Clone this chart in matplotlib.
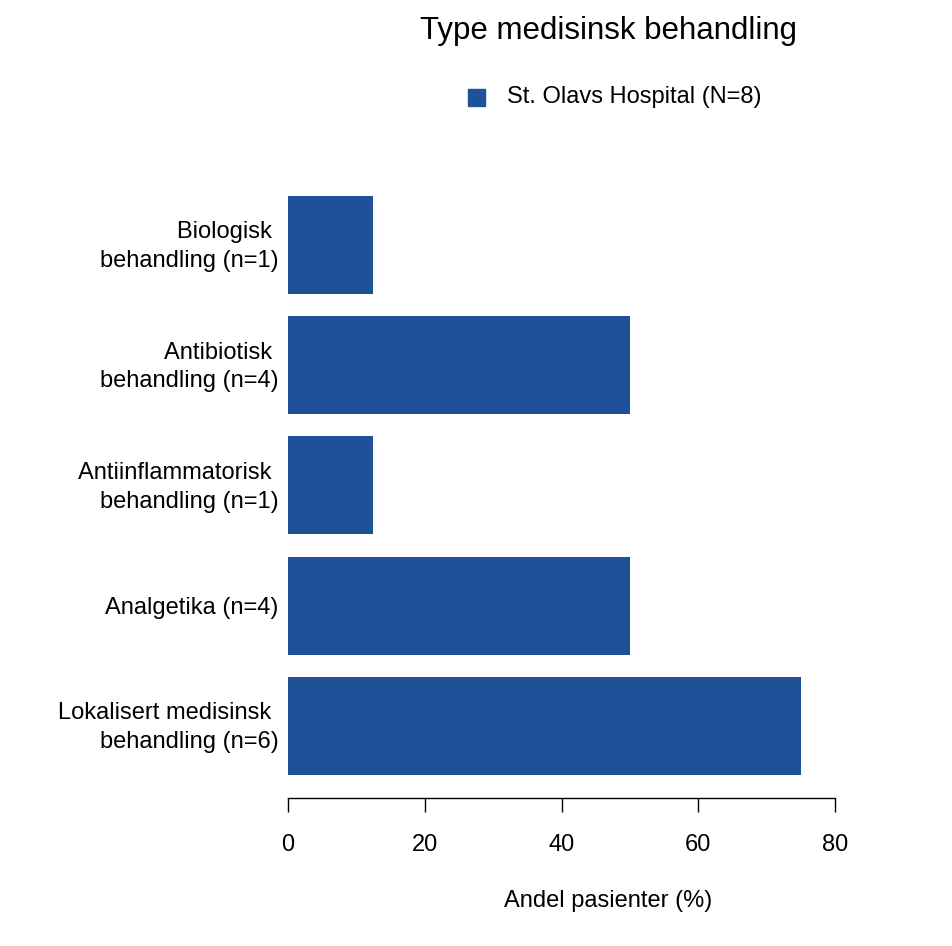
import matplotlib.pyplot as plt
import matplotlib.transforms as mtransforms
from matplotlib.patches import Rectangle

plt.rcParams['font.family'] = ['Liberation Sans', 'DejaVu Sans']

categories = ['Lokalisert medisinsk \nbehandling (n=6)',
              'Analgetika (n=4)',
              'Antiinflammatorisk \nbehandling (n=1)',
              'Antibiotisk \nbehandling (n=4)',
              'Biologisk \nbehandling (n=1)']
values = [75.0, 50.0, 12.5, 50.0, 12.5]
xticks = [0, 20, 40, 60, 80]
blue = '#1f5199'

W, H = 952, 946
fig = plt.figure(figsize=(W / 100, H / 100), dpi=100)
ax = fig.add_axes([288 / W, 1 - 798 / H, (835 - 288) / W, (798 - 190) / H])

pos = list(range(len(categories)))
ax.barh(pos, values, height=0.815, color=blue, edgecolor='none')
ax.set_xlim(0, 80)
ax.set_ylim(-0.6, 4.457)

for s in ['top', 'right', 'left']:
    ax.spines[s].set_visible(False)
ax.spines['bottom'].set_linewidth(1.0)
ax.set_xticks(xticks)
ax.set_xticklabels([str(t) for t in xticks], fontsize=17)
ax.tick_params(axis='x', length=10, width=1.0, pad=16)
ax.set_yticks(pos)
ax.set_yticklabels(categories, fontsize=17, ha='right', multialignment='right',
                   linespacing=1.4)
ax.tick_params(axis='y', length=0, pad=7)
shift = mtransforms.ScaledTranslation(0, 4 / 100, fig.dpi_scale_trans)
for lab in ax.get_yticklabels():
    if '\n' in lab.get_text():
        lab.set_transform(lab.get_transform() + shift)

fig.text(608 / W, 1 - 31 / H, 'Type medisinsk behandling', fontsize=22.5,
         ha='center', va='center')
fig.text(608 / W, 1 - 901 / H, 'Andel pasienter (%)', fontsize=17,
         ha='center', va='center')

# legend
fig.patches.append(Rectangle((468 / W, 1 - 106 / H), 17 / W, 17 / H,
                             transform=fig.transFigure, color=blue))
fig.text(507 / W, 1 - 97 / H, 'St. Olavs Hospital (N=8)', fontsize=17,
         ha='left', va='center')

fig.savefig('out.png', dpi=100)
